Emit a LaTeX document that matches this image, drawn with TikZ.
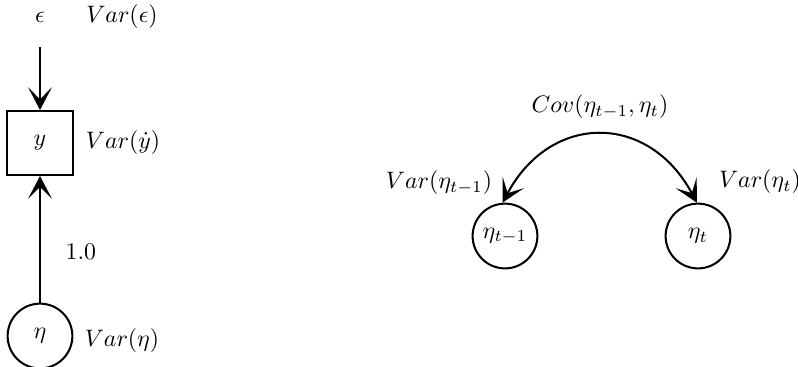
\documentclass[tikz,border=0pt]{standalone}
\usepackage{amsmath}
\usetikzlibrary{arrows.meta}

\begin{document}
\begin{tikzpicture}[
  x=0.42pt, y=-0.42pt,
  >={Stealth[length=9.5pt,width=10pt,inset=5pt]},
  line/.style={draw=black, line width=0.85pt},
  arrow/.style={->, line},
  twoway/.style={<->, line},
  observed/.style={line, minimum width=27.7pt, minimum height=26.9pt, inner sep=0pt},
  latent/.style={line, circle, minimum size=27.2pt, inner sep=0pt},
  label/.style={inner sep=1pt}
]
\useasboundingbox (0,0) rectangle (798,366);

% Measurement model.
\node[label] (eps) at (40,17) {$\epsilon$};
\node[label] (vareps) at (122,17) {$Var(\epsilon)$};
\coordinate (epsin) at (40,47);
\node[observed] (y) at (40,143) {$y$};
\node[label] (vary) at (123,143) {$Var(\dot{y})$};
\node[latent] (eta) at (40,336) {$\eta$};
\node[label] (vareta) at (122,341) {$Var(\eta)$};

\draw[arrow] (epsin) -- (y.north);
\draw[arrow] (eta.north) -- node[pos=0.4, right, xshift=7pt] {$1.0$} (y.south);

% Autoregressive pair.
\node[latent] (etaprev) at (505,236) {$\eta_{t-1}$};
\node[latent] (etanow) at (698,236) {$\eta_t$};
\node[label] (varprev) at (439,183) {$Var(\eta_{t-1})$};
\node[label] (varnow) at (760,182) {$Var(\eta_t)$};
\node[label] (cov) at (600,107) {$Cov(\eta_{t-1},\eta_t)$};

\draw[twoway] ([xshift=-1pt]etaprev.north) to[out=62, in=118, looseness=1.35] ([xshift=-0.5pt]etanow.north);

\end{tikzpicture}
\end{document}
